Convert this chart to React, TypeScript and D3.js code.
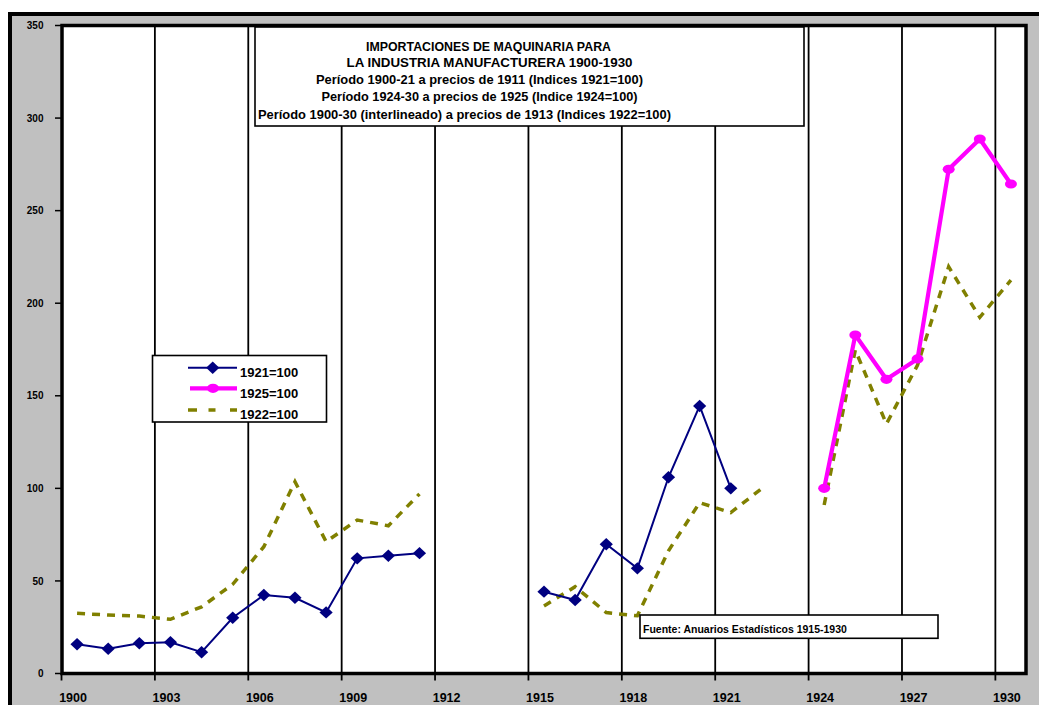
import React from 'react';
import * as d3 from 'd3';

const years = [1900, 1901, 1902, 1903, 1904, 1905, 1906, 1907, 1908, 1909, 1910, 1911, 1912, 1913, 1914, 1915, 1916, 1917, 1918, 1919, 1920, 1921, 1922, 1923, 1924, 1925, 1926, 1927, 1928, 1929, 1930];

const idx1921: (number | null)[] = [15.8, 13.4, 16.3, 16.9, 11.5, 30.1, 42.4, 40.9, 33.0, 62.2, 63.6, 65.0, null, null, null, 44.2, 39.7, 69.8, 56.8, 106.0, 144.5, 100, null, null, null, null, null, null, null, null, null];
const idx1925: (number | null)[] = [null, null, null, null, null, null, null, null, null, null, null, null, null, null, null, null, null, null, null, null, null, null, null, null, 100, 182.8, 158.9, 169.9, 272.3, 288.7, 264.4];
const idx1922: (number | null)[] = [32.5, 31.6, 31.0, 29.3, 36.0, 48.2, 68.5, 103.6, 71.2, 82.9, 79.8, 97.0, null, null, null, 36.5, 46.9, 32.9, 31.2, 66.3, 92.3, 86.9, 100, null, 91.0, 174.7, 134.8, 166.6, 219.7, 192.4, 212.5];

const yTicks = [0, 50, 100, 150, 200, 250, 300, 350];
const xLabels = [1900, 1903, 1906, 1909, 1912, 1915, 1918, 1921, 1924, 1927, 1930];

const titleLines = [
  'IMPORTACIONES DE MAQUINARIA PARA',
  'LA INDUSTRIA MANUFACTURERA 1900-1930',
  'Período 1900-21 a precios de 1911 (Indices 1921=100)',
  'Período 1924-30 a precios de 1925 (Indice 1924=100)',
  'Período 1900-30 (interlineado) a precios de 1913 (Indices 1922=100)',
];
const legendLabels = ['1921=100', '1925=100', '1922=100'];
const sourceNote = 'Fuente: Anuarios Estadísticos 1915-1930';

const FONT = "Arial, 'Liberation Sans', sans-serif";
const NAVY = '#000080';
const MAGENTA = '#FF00FF';
const OLIVE = '#808000';

export default function App() {
  const W = 1039;
  const H = 705;
  const x = d3.scaleBand<number>().domain(years).range([61.5, 1026.5]).paddingInner(0).paddingOuter(0);
  const bw = x.bandwidth();
  const cx = (yr: number) => (x(yr) as number) + bw / 2;
  const y = d3.scaleLinear().domain([0, 350]).range([673.5, 25.5]);

  const mk = (vals: (number | null)[]) => years.map((yr, i) => ({ yr, v: vals[i] }));
  const line = d3
    .line<{ yr: number; v: number | null }>()
    .defined((d) => d.v != null)
    .x((d) => cx(d.yr))
    .y((d) => y(d.v as number));

  const diamond = 'M0,-6.2L6.6,0L0,6.2L-6.6,0Z';

  const gridIdx = years.map((_, i) => i).filter((i) => i % 3 === 0);
  const [plotL, plotR] = [62, 1026];
  const [plotT, plotB] = [y(350), y(0)];

  const titleLayout = [
    { cx: 488.5, base: 51, len: 245 },
    { cx: 489.5, base: 66.5, len: 286 },
    { cx: 479.5, base: 83.5, len: 327 },
    { cx: 479.5, base: 101, len: 316 },
    { cx: 464.5, base: 118.5, len: 413 },
  ];

  return (
    <svg width={W} height={H} style={{ position: 'absolute', left: 0, top: 0 }} fontFamily={FONT}>
      <rect x={0} y={0} width={W} height={H} fill="#ffffff" />
      <rect x={10} y={14} width={W + 20} height={H + 20} fill="#C0C0C0" stroke="#000" strokeWidth={4} />
      <rect x={plotL} y={plotT} width={plotR - plotL} height={plotB - plotT} fill="#ffffff" />
      {gridIdx.filter((i) => i > 0).map((i) => (
        <line key={'g' + i} x1={x(years[i])} x2={x(years[i])} y1={plotT} y2={plotB} stroke="#000" strokeWidth={1.8} />
      ))}
      <rect x={plotL} y={plotT} width={plotR - plotL} height={plotB - plotT} fill="none" stroke="#000" strokeWidth={3.5} />
      {yTicks.map((t) => (
        <g key={'y' + t}>
          <line x1={55} x2={plotL} y1={y(t)} y2={y(t)} stroke="#000" strokeWidth={1.5} />
          <text x={43.5} y={y(t) + 3.6} textAnchor="end" fontSize={10} fontWeight="bold" fill="#000">
            {t}
          </text>
        </g>
      ))}
      {gridIdx.map((i) => (
        <line key={'xt' + i} x1={x(years[i])} x2={x(years[i])} y1={plotB} y2={plotB + 7} stroke="#000" strokeWidth={1.8} />
      ))}
      {xLabels.map((yr) => (
        <text key={'xl' + yr} x={cx(yr) - 4} y={702} textAnchor="middle" fontSize={12.5} fontWeight="bold" fill="#000">
          {yr}
        </text>
      ))}

      <path d={line(mk(idx1922)) || ''} fill="none" stroke={OLIVE} strokeWidth={3.5} strokeDasharray="8 7" />
      <path d={line(mk(idx1921)) || ''} fill="none" stroke={NAVY} strokeWidth={2} />
      {mk(idx1921).filter((d) => d.v != null).map((d) => (
        <path key={'d' + d.yr} d={diamond} transform={`translate(${cx(d.yr)},${y(d.v as number)})`} fill={NAVY} />
      ))}
      <path d={line(mk(idx1925)) || ''} fill="none" stroke={MAGENTA} strokeWidth={4.2} strokeLinejoin="round" />
      {mk(idx1925).filter((d) => d.v != null).map((d) => (
        <ellipse key={'c' + d.yr} cx={cx(d.yr)} cy={y(d.v as number)} rx={6} ry={4.6} fill={MAGENTA} />
      ))}

      <rect x={255} y={27} width={549} height={99} fill="#fff" stroke="#000" strokeWidth={1.6} />
      {titleLines.map((t, i) => (
        <text
          key={'t' + i}
          x={titleLayout[i].cx}
          y={titleLayout[i].base}
          textAnchor="middle"
          fontSize={13}
          fontWeight="bold"
          fill="#000"
          textLength={titleLayout[i].len}
          lengthAdjust="spacingAndGlyphs"
        >
          {t}
        </text>
      ))}

      <rect x={152.5} y={355.5} width={174} height={66.5} fill="#fff" stroke="#000" strokeWidth={1.6} />
      <line x1={188} x2={237} y1={367.7} y2={367.7} stroke={NAVY} strokeWidth={2} />
      <path d={diamond} transform="translate(212.7,367.7)" fill={NAVY} />
      <line x1={190} x2={237} y1={388.3} y2={388.3} stroke={MAGENTA} strokeWidth={4.2} />
      <ellipse cx={213} cy={388.3} rx={6} ry={4.6} fill={MAGENTA} />
      <line x1={188} x2={237} y1={410} y2={410} stroke={OLIVE} strokeWidth={3.5} strokeDasharray="9 11.5 7 14.5 7" />
      {legendLabels.map((l, i) => (
        <text key={'l' + i} x={240} y={376.5 + i * 21.2} fontSize={13} fontWeight="bold" fill="#000">
          {l}
        </text>
      ))}

      <rect x={640} y={615} width={298} height={23.3} fill="#fff" stroke="#000" strokeWidth={1.6} />
      <text x={643} y={633} fontSize={10.5} fontWeight="bold" fill="#000">
        {sourceNote}
      </text>
    </svg>
  );
}
